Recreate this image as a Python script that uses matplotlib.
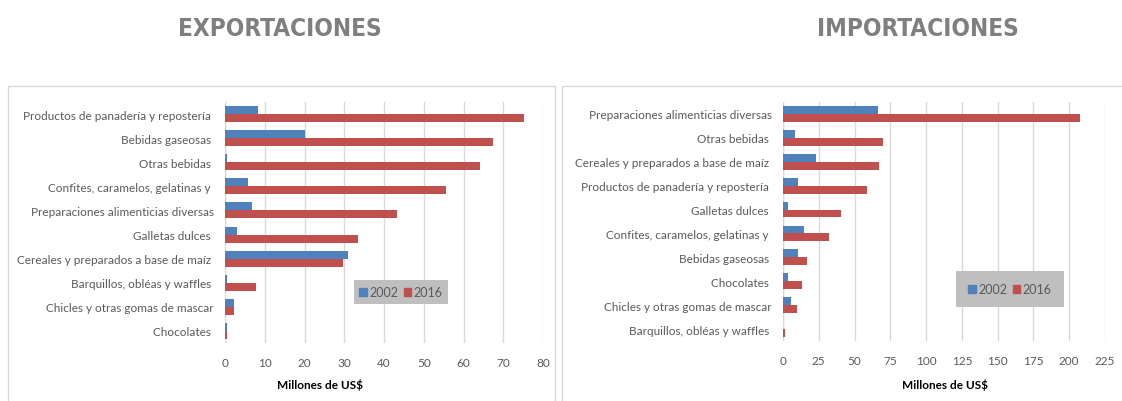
import matplotlib.pyplot as plt
import matplotlib.patches as mpatches
from matplotlib import font_manager
import numpy as np

# ===== datos =====
exp_cats = ["Productos de panadería y repostería ", "Bebidas gaseosas ", "Otras bebidas ",
            "Confites, caramelos, gelatinas y ", "Preparaciones alimenticias diversas",
            "Galletas dulces ", "Cereales y preparados a base de maíz ",
            "Barquillos, obléas y waffles ", "Chicles y otras gomas de mascar", "Chocolates "]
exp_2002 = [8.2, 20.0, 0.4, 5.8, 6.8, 2.9, 30.9, 0.4, 2.2, 0.4]
exp_2016 = [75.2, 67.4, 64.2, 55.7, 43.3, 33.4, 29.6, 7.9, 2.2, 0.4]

imp_cats = ["Preparaciones alimenticias diversas", "Otras bebidas ",
            "Cereales y preparados a base de maíz ", "Productos de panadería y repostería ",
            "Galletas dulces ", "Confites, caramelos, gelatinas y ", "Bebidas gaseosas ",
            "Chocolates ", "Chicles y otras gomas de mascar", "Barquillos, obléas y waffles "]
imp_2002 = [66.1, 8.4, 23.0, 10.5, 3.3, 14.5, 10.5, 3.3, 5.4, 0.2]
imp_2016 = [207.4, 70.1, 66.8, 58.8, 40.3, 32.1, 16.6, 13.6, 9.6, 1.2]

years = ["2002", "2016"]
BLUE = "#4f81bd"
RED = "#c0504d"
GRAY = "#595959"

plt.rcParams['font.family'] = ['Lato', 'DejaVu Sans']

# fuente estrecha para los títulos si existe
names = {f.name for f in font_manager.fontManager.ttflist}
if 'Liberation Sans Narrow' in names:
    title_family = ['Liberation Sans Narrow', 'DejaVu Sans']
    title_size = 19
else:
    title_family = ['DejaVu Sans']
    title_size = 17.5

fig = plt.figure(figsize=(11.22, 4.02), dpi=100)

# marcos de los paneles
fig.patches.append(mpatches.Rectangle((8 / 1122, -0.01), 547 / 1122, 1 - 87 / 402 + 0.01,
                                      transform=fig.transFigure, fill=False,
                                      edgecolor="#d9d9d9", linewidth=1))
fig.patches.append(mpatches.Rectangle((562 / 1122, -0.01), 0.6, 1 - 87 / 402 + 0.01,
                                      transform=fig.transFigure, fill=False,
                                      edgecolor="#d9d9d9", linewidth=1))

title_font = dict(family=title_family, fontsize=title_size, fontstretch='condensed',
                  fontweight='bold', color="#7f7f7f", ha='center', va='center')
fig.text(280 / 1122, 1 - 29 / 402, "EXPORTACIONES", **title_font)
fig.text(918 / 1122, 1 - 29 / 402, "IMPORTACIONES", **title_font)


def draw_panel(rect, cats, v02, v16, xmax, step, leg_center, leg_pad, xlabel_x):
    ax = fig.add_axes(rect)
    y = np.arange(len(cats))
    h = 0.33
    ax.barh(y - h / 2, v02, height=h, color=BLUE, label=years[0])
    ax.barh(y + h / 2, v16, height=h, color=RED, label=years[1])
    ax.set_ylim(len(cats) - 0.5, -0.5)
    ax.set_xlim(0, xmax)
    ax.set_xticks(np.arange(0, xmax + 0.1, step))
    ax.set_yticks(y)
    ax.set_yticklabels(cats)
    ax.tick_params(axis='both', length=0, labelsize=8.5, labelcolor=GRAY)
    ax.tick_params(axis='x', pad=10)
    ax.tick_params(axis='y', pad=8)
    for s in ax.spines.values():
        s.set_visible(False)
    ax.axvline(0, color="#d9d9d9", linewidth=1, zorder=0)
    ax.grid(axis='x', color="#d9d9d9", linewidth=1)
    ax.set_axisbelow(True)
    fig.text(xlabel_x / 1122, 1 - 385 / 402, "Millones de US$", ha='center', va='center',
             fontsize=8.5, fontweight='bold', color="black")
    handles = [mpatches.Patch(color=BLUE), mpatches.Patch(color=RED)]
    leg = fig.legend(handles, years, loc='center',
                     bbox_to_anchor=(leg_center[0] / 1122, 1 - leg_center[1] / 402),
                     ncol=2, frameon=True, fancybox=False, fontsize=9,
                     handlelength=0.6, handleheight=0.6, handletextpad=0.2,
                     columnspacing=0.45, borderpad=leg_pad, borderaxespad=0)
    leg.get_frame().set_facecolor("#bfbfbf")
    leg.get_frame().set_edgecolor("none")
    leg.get_frame().set_alpha(1)
    for t in leg.get_texts():
        t.set_color(GRAY)
    return ax


draw_panel([225 / 1122, 1 - 344 / 402, 318 / 1122, 241 / 402], exp_cats, exp_2002, exp_2016,
           80, 10, (401, 293), 0.45, 320)
draw_panel([783 / 1122, 1 - 342 / 402, 322 / 1122, 239 / 402], imp_cats, imp_2002, imp_2016,
           225, 25, (1010, 290), 0.95, 945)

plt.savefig("out.png", dpi=100)
